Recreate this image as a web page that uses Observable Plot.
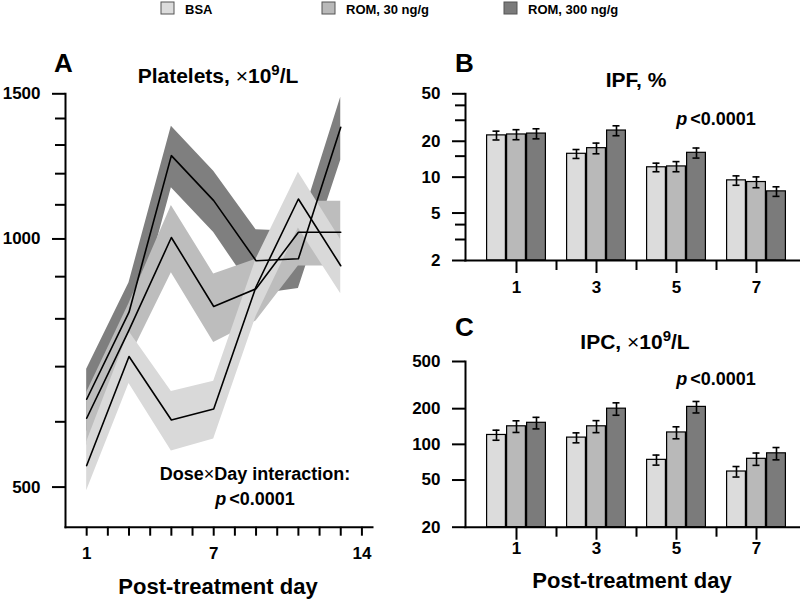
<!DOCTYPE html>
<html><head><meta charset="utf-8">
<script src="https://cdn.jsdelivr.net/npm/d3@7"></script>
<script src="https://cdn.jsdelivr.net/npm/@observablehq/plot@0.6"></script>
<style>
body{margin:0;background:#fff;}
#root{position:relative;width:800px;height:600px;overflow:hidden;font-family:"Liberation Sans",Arial,sans-serif;}
#root svg.plotsvg{position:absolute;}
#overlay{position:absolute;left:0;top:0;pointer-events:none;}
#overlay text{font-family:"Liberation Sans",Arial,sans-serif;font-weight:bold;fill:#000;}
</style></head><body><div id="root"></div>
<script>
// ---------- data ----------
const groups = ["BSA", "ROM, 30 ng/g", "ROM, 300 ng/g"];
const barColors = ["#dcdcdc", "#b9b9b9", "#7b7b7b"];
const bandColors = ["#d9d9d9", "#bdbdbd", "#7f7f7f"];

// Panel A: platelets, x10^9/L (mean and SE ribbons)
const days = [1, 3, 5, 7, 9, 11, 13];
const pltBSA = [531, 720, 603, 622, 875, 1118, 928];
const pltBSA_se = [36, 52, 50, 50, 70, 87, 70];
const pltROM30 = [606, 775, 1004, 828, 870, 1019, 1019];
const pltROM30_se = [45, 60, 94, 79, 75, 92, 92];
const pltROM300 = [639, 815, 1262, 1113, 941, 946, 1366];
const pltROM300_se = [56, 70, 108, 95, 85, 75, 120];
const aYMajor = [500, 1000, 1500];
const aYMinor = [600, 700, 800, 900, 1100, 1200, 1300, 1400];
const aXTicks = [1,2,3,4,5,6,7,8,9,10,11,12,13,14];
const aXLabels = [1, 7, 14];

// Panels B and C: bars by day
const barDays = ["1", "3", "5", "7"];
const ipfBSA = [22.4, 15.7, 12.1, 9.4];
const ipfBSA_se = [1.9, 1.35, 1.0, 0.85];
const ipfROM30 = [22.8, 17.5, 12.3, 9.1];
const ipfROM30_se = [2.2, 1.8, 1.2, 0.95];
const ipfROM300 = [23.2, 24.6, 16.0, 7.6];
const ipfROM300_se = [2.25, 2.35, 1.55, 0.7];
const bYMajor = [2, 5, 10, 20, 50];
const bYMinor = [3, 4, 15, 30, 40];

const ipcBSA = [120, 114, 74, 59];
const ipcBSA_se = [11.7, 11, 7.2, 6];
const ipcROM30 = [142, 142, 126, 75.5];
const ipcROM30_se = [16, 16.5, 14.6, 9];
const ipcROM300 = [152, 200, 207, 84];
const ipcROM300_se = [17, 24, 23, 10];
const cYMajor = [20, 50, 100, 200, 500];

// ---------- build ----------
const FONT = '"Liberation Sans", Arial, sans-serif';
const root = document.getElementById("root");
function place(svg, left, top) {
  svg.classList.add("plotsvg");
  svg.style.left = left + "px";
  svg.style.top = top + "px";
  root.appendChild(svg);
}
const baseStyle = {fontFamily: FONT, fontSize: "17px", fontWeight: "bold", overflow: "visible", background: "transparent", color: "#000"};

function ribbon(mean, se) {
  return days.map((d, i) => ({day: d, mean: mean[i], lo: mean[i] - se[i], hi: mean[i] + se[i]}));
}
const rA = [ribbon(pltBSA, pltBSA_se), ribbon(pltROM30, pltROM30_se), ribbon(pltROM300, pltROM300_se)];

const plotA = Plot.plot({
  width: 400, height: 600,
  marginTop: 93.3, marginBottom: 73.3, marginLeft: 65, marginRight: 28,
  x: {domain: [0, 14.5], axis: null},
  y: {type: "log", domain: [447, 1500], axis: null},
  style: baseStyle,
  marks: [
    Plot.areaY(rA[2], {x: "day", y1: "lo", y2: "hi", fill: bandColors[2]}),
    Plot.areaY(rA[1], {x: "day", y1: "lo", y2: "hi", fill: bandColors[1]}),
    Plot.areaY(rA[0], {x: "day", y1: "lo", y2: "hi", fill: bandColors[0]}),
    Plot.lineY(rA[2], {x: "day", y: "mean", stroke: "#000", strokeWidth: 1.6}),
    Plot.lineY(rA[1], {x: "day", y: "mean", stroke: "#000", strokeWidth: 1.6}),
    Plot.lineY(rA[0], {x: "day", y: "mean", stroke: "#000", strokeWidth: 1.6}),
    Plot.frame({anchor: "left", strokeWidth: 2}),
    Plot.frame({anchor: "bottom", strokeWidth: 2}),
    Plot.axisY({ticks: aYMajor, tickSize: 13, tickPadding: 12, strokeWidth: 2, tickFormat: d => String(d), label: null, fontSize: 17}),
    Plot.axisY({ticks: aYMinor, tickSize: 10, strokeWidth: 2, tickFormat: () => "", label: null}),
    Plot.axisX({ticks: aXTicks, tickSize: 9, tickPadding: 11, strokeWidth: 2, tickFormat: d => aXLabels.includes(d) ? String(d) : "", label: null, fontSize: 17})
  ]
});
place(plotA, 0, 0);

// x keys for bar panels (group bands with a gap band between days)
const xKeys = [];
const centerKeys = [];
const gapKeys = [];
barDays.forEach((d, i) => {
  if (i > 0) { xKeys.push("gap" + i); gapKeys.push("gap" + i); }
  groups.forEach(g => xKeys.push(d + "|" + g));
  centerKeys.push(d + "|" + groups[1]);
});

function barRows(means, ses) {
  const out = [];
  barDays.forEach((d, i) => groups.forEach((g, j) =>
    out.push({key: d + "|" + g, day: d, grp: g, mean: means[j][i], se: ses[j][i]})));
  return out;
}

function barPlot(rows, yDomain, yMajor, yMinor, marginTop, marginBottom, labelPad) {
  const marks = [
    Plot.barY(rows, {x: "key", y1: yDomain[0], y2: "mean", fill: "grp", stroke: "#000", strokeWidth: 1.2, insetLeft: 0.6, insetRight: 0.6}),
    Plot.ruleX(rows, {x: "key", y1: d => d.mean - d.se, y2: d => d.mean + d.se, stroke: "#000", strokeWidth: 1.6}),
    Plot.tickY(rows, {x: "key", y: d => d.mean + d.se, stroke: "#000", strokeWidth: 1.6, insetLeft: 6.5, insetRight: 6.5}),
    Plot.tickY(rows, {x: "key", y: d => d.mean - d.se, stroke: "#000", strokeWidth: 1.6, insetLeft: 6.5, insetRight: 6.5}),
    Plot.frame({anchor: "left", strokeWidth: 2}),
    Plot.frame({anchor: "bottom", strokeWidth: 2}),
    Plot.axisY({ticks: yMajor, tickSize: 13, tickPadding: 12, strokeWidth: 2, tickFormat: d => String(d), label: null, fontSize: 17}),
    Plot.axisX({ticks: centerKeys, tickSize: 13, tickPadding: labelPad, strokeWidth: 2, tickFormat: k => k.split("|")[0], label: null, fontSize: 17}),
    Plot.axisX({ticks: gapKeys, tickSize: 10, strokeWidth: 2, tickFormat: () => "", label: null})
  ];
  if (yMinor) marks.push(Plot.axisY({ticks: yMinor, tickSize: 10, strokeWidth: 2, tickFormat: () => "", label: null}));
  return Plot.plot({
    width: 400, height: 300,
    marginTop, marginBottom, marginLeft: 65, marginRight: 0,
    x: {domain: xKeys, range: [73, 399], paddingInner: 0, paddingOuter: 0.5, axis: null},
    y: {type: "log", domain: yDomain, axis: null},
    color: {domain: groups, range: barColors},
    style: baseStyle,
    marks
  });
}

const plotB = barPlot(barRows([ipfBSA, ipfROM30, ipfROM300], [ipfBSA_se, ipfROM30_se, ipfROM300_se]),
  [2, 50], bYMajor, bYMinor, 93.3, 40, 7);
place(plotB, 400, 0);
const plotC = barPlot(barRows([ipcBSA, ipcROM30, ipcROM300], [ipcBSA_se, ipcROM30_se, ipcROM300_se]),
  [20, 500], cYMajor, null, 61, 73.3, 2);
place(plotC, 400, 300);

// ---------- text overlay: legend, titles, annotations ----------
const legendX = [161, 322, 504];
const ns = "http://www.w3.org/2000/svg";
const ov = document.createElementNS(ns, "svg");
ov.setAttribute("id", "overlay");
ov.setAttribute("width", 800);
ov.setAttribute("height", 600);
let html = "";
groups.forEach((g, i) => {
  html += `<rect x="${legendX[i]}" y="2" width="13" height="12" fill="${barColors[i]}" stroke="#555" stroke-width="1"/>`;
  html += `<text x="${legendX[i] + 24}" y="14" font-size="13">${g}</text>`;
});
const times = `<tspan font-weight="normal">×</tspan>`;
html += `<text x="54" y="72" font-size="26">A</text>`;
html += `<text x="218" y="83" font-size="21" text-anchor="middle">Platelets, ${times}10<tspan dy="-8" font-size="15">9</tspan><tspan dy="8">/L</tspan></text>`;
html += `<text x="455" y="72" font-size="26">B</text>`;
html += `<text x="636" y="87" font-size="21" text-anchor="middle">IPF, %</text>`;
html += `<text x="455" y="336" font-size="26">C</text>`;
html += `<text x="635" y="349" font-size="21" text-anchor="middle">IPC, ${times}10<tspan dy="-8" font-size="15">9</tspan><tspan dy="8">/L</tspan></text>`;
const pval = `<tspan font-style="italic">p</tspan><tspan dx="3">&lt;0.0001</tspan>`;
html += `<text x="716" y="125" font-size="18" text-anchor="middle">${pval}</text>`;
html += `<text x="716" y="385" font-size="18" text-anchor="middle">${pval}</text>`;
html += `<text x="255" y="480" font-size="18" text-anchor="middle">Dose${times}Day interaction:</text>`;
html += `<text x="255" y="505" font-size="18" text-anchor="middle">${pval}</text>`;
html += `<text x="218" y="594" font-size="22" text-anchor="middle">Post-treatment day</text>`;
html += `<text x="632" y="588" font-size="22" text-anchor="middle">Post-treatment day</text>`;
ov.innerHTML = html;
root.appendChild(ov);
</script></body></html>
